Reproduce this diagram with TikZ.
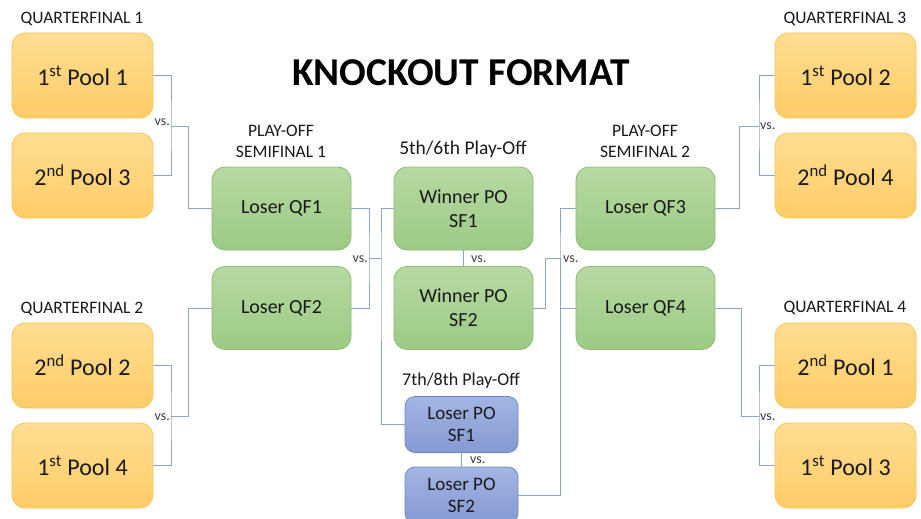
\documentclass[tikz,border=0pt]{standalone}
\usepackage{fontspec}
\setmainfont{Carlito}
\usetikzlibrary{shadings}
\definecolor{otop}{HTML}{FFDD92}
\definecolor{obot}{HTML}{FFCC66}
\definecolor{oline}{HTML}{F6C555}
\definecolor{gtop}{HTML}{B7D9A2}
\definecolor{gbot}{HTML}{9CCA84}
\definecolor{gline}{HTML}{8DBA72}
\definecolor{btop}{HTML}{A3B5E3}
\definecolor{bbot}{HTML}{8599D3}
\definecolor{bline}{HTML}{6F86C6}
\definecolor{conn}{HTML}{8EA6C3}
\definecolor{txt}{HTML}{1A1A1A}
\tikzset{
  pool/.style={draw=oline, line width=0.8pt, rounded corners=13pt, top color=otop, bottom color=obot,
    minimum width=141pt, minimum height=85pt, inner sep=0pt, text=txt, font=\fontsize{24}{27}\selectfont},
  green/.style={draw=gline, line width=0.8pt, rounded corners=13pt, top color=gtop, bottom color=gbot,
    minimum width=139pt, minimum height=83pt, inner sep=0pt, text=txt, align=center, font=\fontsize{20}{24}\selectfont},
  blue/.style={draw=bline, line width=0.8pt, rounded corners=10pt, top color=btop, bottom color=bbot,
    minimum width=113pt, minimum height=56pt, inner sep=0pt, text=txt, align=center, font=\fontsize{19}{22}\selectfont},
  lab/.style={text=txt, align=center, font=\fontsize{17.5}{21}\selectfont},
  vs/.style={text=txt!85, inner sep=0pt, font=\fontsize{14}{16}\selectfont},
  cn/.style={draw=conn, line width=1pt},
}
\begin{document}
\begin{tikzpicture}[x=1pt,y=-1pt]
\useasboundingbox (0,0) rectangle (921,519);
\fill[white] (0,0) rectangle (921,519);

\node[font=\bfseries\fontsize{39.5}{44}\selectfont, text=black] (title) at (461,73) {KNOCKOUT FORMAT};

% quarterfinal boxes
\node[pool] (p11) at (82.5,75.5) {1\textsuperscript{st} Pool 1};
\node[pool] (p23) at (82.5,175.5) {2\textsuperscript{nd} Pool 3};
\node[pool] (p22) at (82.5,365.5) {2\textsuperscript{nd} Pool 2};
\node[pool] (p14) at (82.5,465.5) {1\textsuperscript{st} Pool 4};
\node[pool] (p12) at (845.5,75.5) {1\textsuperscript{st} Pool 2};
\node[pool] (p24) at (845.5,175.5) {2\textsuperscript{nd} Pool 4};
\node[pool] (p21) at (845.5,365.5) {2\textsuperscript{nd} Pool 1};
\node[pool] (p13) at (845.5,465.5) {1\textsuperscript{st} Pool 3};

\node[lab] (q1) at (82,19) {QUARTERFINAL 1};
\node[lab] (q2) at (82,309) {QUARTERFINAL 2};
\node[lab] (q3) at (845,19) {QUARTERFINAL 3};
\node[lab] (q4) at (845,308) {QUARTERFINAL 4};

% play-off semifinals
\node[green] (lqf1) at (281.5,208.5) {Loser QF1};
\node[green] (lqf2) at (281.5,308) {Loser QF2};
\node[green] (lqf3) at (645.5,208.5) {Loser QF3};
\node[green] (lqf4) at (645.5,308) {Loser QF4};
\node[green] (wsf1) at (463.5,208.5) {Winner PO\\SF1};
\node[green] (wsf2) at (463.5,308) {Winner PO\\SF2};
\node[blue] (lsf1) at (461.5,424.5) {Loser PO\\SF1};
\node[blue] (lsf2) at (461.5,495) {Loser PO\\SF2};

\node[lab] (ps1) at (281,141) {PLAY-OFF\\SEMIFINAL 1};
\node[lab] (ps2) at (645,141) {PLAY-OFF\\SEMIFINAL 2};
\node[lab, font=\fontsize{19.5}{22}\selectfont] (l56) at (463,149) {5th/6th Play-Off};
\node[lab, font=\fontsize{18}{21}\selectfont] (l78) at (461,381) {7th/8th Play-Off};

% junction coordinates
\coordinate (v1) at (171,126);
\coordinate (v2) at (171,416);
\coordinate (v3) at (369,258);
\coordinate (v3b) at (381,258);
\coordinate (v4) at (560,258);
\coordinate (v4b) at (545,258);
\coordinate (v5) at (759,126);
\coordinate (v6) at (759,416);

% connectors
\draw[cn] (p11.east) -| (v1) |- (p23.east);
\draw[cn] (v1) -- ++(17,0) |- (lqf1.west);
\draw[cn] (p22.east) -| (v2) |- (p14.east);
\draw[cn] (v2) -- ++(17,0) |- (lqf2.west);
\draw[cn] (lqf1.east) -| (v3) |- (lqf2.east);
\draw[cn] (v3) -- (v3b);
\draw[cn] (wsf1.west) -| (v3b) |- (lsf1.west);
\draw[cn] (lqf3.west) -| (v4) |- (lqf4.west);
\draw[cn] (v4) |- (lsf2.east);
\draw[cn] (wsf2.east) -| (v4b) -- (v4);
\draw[cn] (p12.west) -| (v5) |- (p24.west);
\draw[cn] (v5) -- ++(-20,0) |- (lqf3.east);
\draw[cn] (p21.west) -| (v6) |- (p13.west);
\draw[cn] (v6) -- ++(-18,0) |- (lqf4.east);
\draw[cn] (wsf1.south) -- (wsf2.north);
\draw[cn] (lsf1.south) -- (lsf2.north);

% vs. labels
\node[vs, anchor=base east] (vs1) at (170,125) {vs.};
\node[vs, anchor=base east] (vs2) at (170,420) {vs.};
\node[vs, anchor=base east] (vs3) at (368,262) {vs.};
\node[vs, anchor=base west] (vs4) at (471,262) {vs.};
\node[vs, anchor=base west] (vs5) at (563,262) {vs.};
\node[vs, anchor=base west] (vs6) at (760,129) {vs.};
\node[vs, anchor=base west] (vs7) at (760,420) {vs.};
\node[vs, anchor=base west] (vs8) at (470,463) {vs.};
\end{tikzpicture}
\end{document}
